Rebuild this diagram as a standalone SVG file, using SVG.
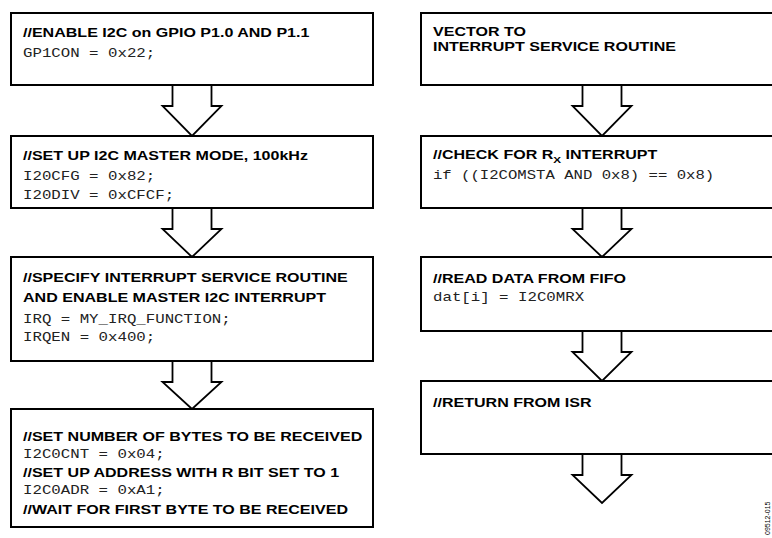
<svg xmlns="http://www.w3.org/2000/svg" width="772" height="538" viewBox="0 0 772 538">
<style>
.box{fill:#fff;stroke:#000;stroke-width:2}
.arr{fill:#fff;stroke:#000;stroke-width:1.8;stroke-linejoin:miter}
.h{font-family:"Liberation Sans",Arial,sans-serif;font-weight:bold;font-size:13px;fill:#000}
.c{font-family:"Liberation Mono","Courier New",monospace;font-size:12.6px;fill:#222}
.fig{font-family:"Liberation Sans",Arial,sans-serif;font-size:7px;fill:#000}
</style>
<rect width="772" height="538" fill="#fff"/>
<g id="connectors">
<polyline class="arr" points="172.5,85 172.5,106 162.5,106 192,136 221.5,106 211.5,106 211.5,85"/>
<polyline class="arr" points="172.5,208 172.5,229 162.5,229 192,257 221.5,229 211.5,229 211.5,208"/>
<polyline class="arr" points="172.5,361 172.5,382 162.5,382 192,409 221.5,382 211.5,382 211.5,361"/>
<polyline class="arr" points="582.5,85 582.5,106 572.5,106 602,136 631.5,106 621.5,106 621.5,85"/>
<polyline class="arr" points="582.5,208 582.5,229 572.5,229 602,257 631.5,229 621.5,229 621.5,208"/>
<polyline class="arr" points="582.5,331 582.5,352 572.5,352 602,381 631.5,352 621.5,352 621.5,331"/>
<polyline class="arr" points="582.5,454 582.5,475 572.5,475 602,503 631.5,475 621.5,475 621.5,454"/>
</g>
<g id="n1">
<rect class="box" x="11" y="13" width="362" height="72"/>
<text class="h" transform="translate(23,37) scale(1.235,1)">//ENABLE I2C on GPIO P1.0 AND P1.1</text>
<text class="c" transform="translate(23,57) scale(1.25,1)">GP1CON = 0x22;</text>
</g>
<g id="n2">
<rect class="box" x="11" y="136" width="362" height="72"/>
<text class="h" transform="translate(23,160) scale(1.235,1)">//SET UP I2C MASTER MODE, 100kHz</text>
<text class="c" transform="translate(23,180) scale(1.25,1)">I20CFG = 0x82;</text>
<text class="c" transform="translate(23,198.5) scale(1.25,1)">I20DIV = 0xCFCF;</text>
</g>
<g id="n3">
<rect class="box" x="11" y="257" width="362" height="104"/>
<text class="h" transform="translate(23,282) scale(1.235,1)">//SPECIFY INTERRUPT SERVICE ROUTINE</text>
<text class="h" transform="translate(23,302) scale(1.235,1)">AND ENABLE MASTER I2C INTERRUPT</text>
<text class="c" transform="translate(23,322.5) scale(1.25,1)">IRQ = MY_IRQ_FUNCTION;</text>
<text class="c" transform="translate(23,341) scale(1.25,1)">IRQEN = 0x400;</text>
</g>
<g id="n4">
<rect class="box" x="11" y="409" width="362" height="118"/>
<text class="h" transform="translate(23,441) scale(1.235,1)">//SET NUMBER OF BYTES TO BE RECEIVED</text>
<text class="c" transform="translate(23,458) scale(1.25,1)">I2C0CNT = 0x04;</text>
<text class="h" transform="translate(23,477) scale(1.235,1)">//SET UP ADDRESS WITH R BIT SET TO 1</text>
<text class="c" transform="translate(23,494) scale(1.25,1)">I2C0ADR = 0xA1;</text>
<text class="h" transform="translate(23,514) scale(1.235,1)">//WAIT FOR FIRST BYTE TO BE RECEIVED</text>
</g>
<g id="n5">
<rect class="box" x="421" y="13" width="370" height="72"/>
<text class="h" transform="translate(433,36) scale(1.235,1)">VECTOR TO</text>
<text class="h" transform="translate(433,51) scale(1.235,1)">INTERRUPT SERVICE ROUTINE</text>
</g>
<g id="n6">
<rect class="box" x="421" y="136" width="370" height="72"/>
<text class="h" transform="translate(433,159) scale(1.235,1)">//CHECK FOR R<tspan font-size="9.5px" dy="3.5">X</tspan><tspan dy="-3.5"> INTERRUPT</tspan></text>
<text class="c" transform="translate(433,178.5) scale(1.24,1)">if ((I2COMSTA AND 0x8) == 0x8)</text>
</g>
<g id="n7">
<rect class="box" x="421" y="257" width="370" height="74"/>
<text class="h" transform="translate(433,282.5) scale(1.235,1)">//READ DATA FROM FIFO</text>
<text class="c" transform="translate(433,301) scale(1.25,1)">dat[i] = I2C0MRX</text>
</g>
<g id="n8">
<rect class="box" x="421" y="381" width="370" height="73"/>
<text class="h" transform="translate(433,406.5) scale(1.235,1)">//RETURN FROM ISR</text>
</g>
<text class="fig" transform="translate(770,535) rotate(-90)">09512-015</text>
</svg>
